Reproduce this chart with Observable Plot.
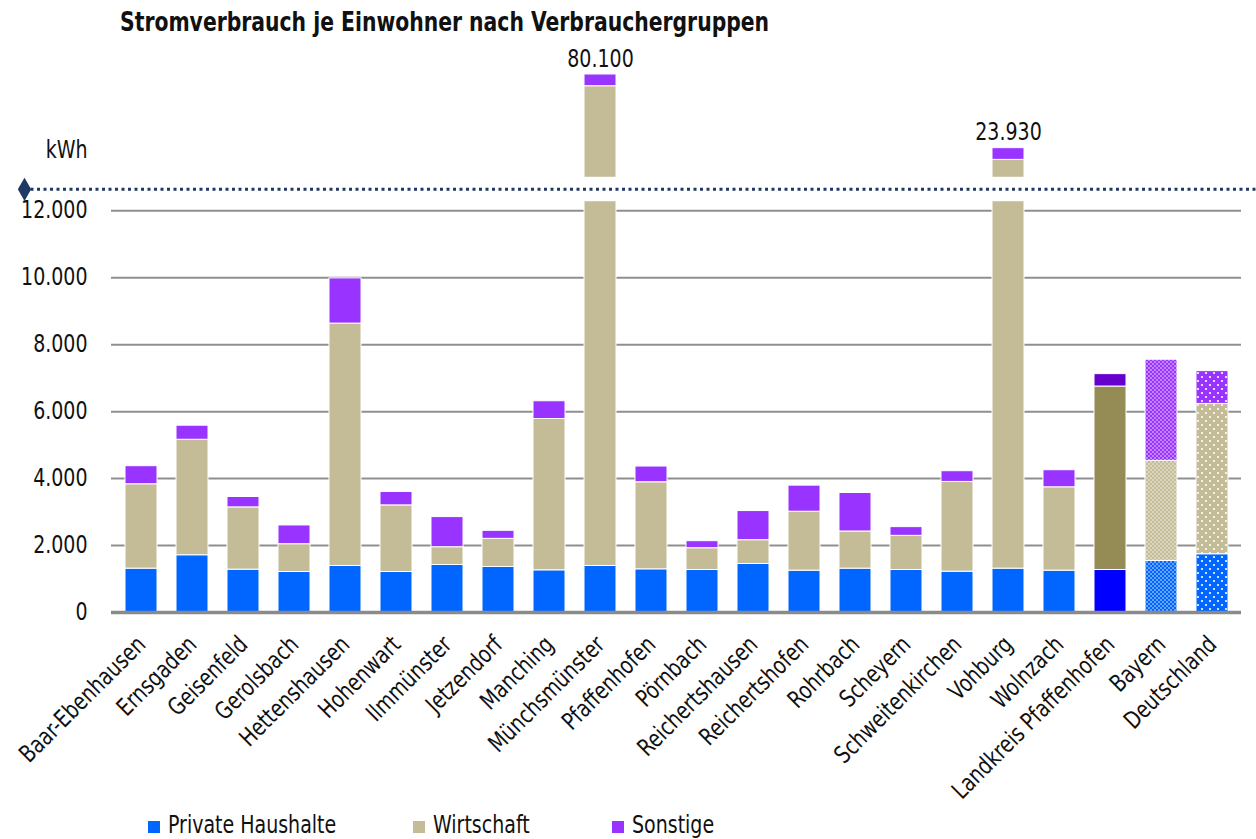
<!DOCTYPE html>
<html>
<head>
<meta charset="utf-8">
<script src="https://cdn.jsdelivr.net/npm/d3@7"></script>
<script src="https://cdn.jsdelivr.net/npm/@observablehq/plot@0.6"></script>
<style>
  body { margin: 0; background: #fff; color: #111;
         font-family: "DejaVu Sans Condensed", "Liberation Sans Narrow", sans-serif; }
  #wrap { width: 1256px; height: 839px; overflow: hidden; }
  #title { height: 34px; line-height: 34px; padding-top: 5px; padding-left: 120px; white-space: nowrap; }
  #title span { display: inline-block; font-size: 26px; font-weight: bold; transform: scaleX(0.87); transform-origin: 0 50%; }
  #legend { position: relative; height: 29px; font-size: 24px; }
  #legend .item { position: absolute; top: 0; line-height: 30px; white-space: nowrap; }
  #legend .sw { display: inline-block; width: 12px; height: 12px; margin-right: 8px; vertical-align: 0px; }
  #legend .tx { display: inline-block; transform: scaleX(0.88); transform-origin: 0 50%; }
</style>
</head>
<body>
<div id="wrap">
  <div id="title"><span>Stromverbrauch je Einwohner nach Verbrauchergruppen</span></div>
  <div id="chart"></div>
  <div id="legend"></div>
</div>
<script>
// ---- data (kWh per inhabitant) ----
const towns = ["Baar-Ebenhausen","Ernsgaden","Geisenfeld","Gerolsbach","Hettenshausen","Hohenwart","Ilmmünster","Jetzendorf","Manching","Münchsmünster","Pfaffenhofen","Pörnbach","Reichertshausen","Reichertshofen","Rohrbach","Scheyern","Schweitenkirchen","Vohburg","Wolnzach","Landkreis Pfaffenhofen","Bayern","Deutschland"];
const groups = ["Private Haushalte","Wirtschaft","Sonstige"];
const privateHaushalte = [1310,1710,1280,1210,1390,1210,1420,1360,1260,1390,1290,1270,1450,1250,1310,1270,1220,1310,1250,1270,1540,1740];
// for Münchsmünster and Vohburg the drawn (axis-broken) heights are given
const wirtschaft = [2520,3450,1860,830,7240,1990,530,840,4520,14330,2600,650,710,1760,1110,1020,2680,12210,2490,5480,2990,4490];
const sonstige   = [540,420,310,560,1350,400,900,240,530,350,470,210,870,780,1150,260,320,350,510,370,3020,980];
const brokenTowns = ["Münchsmünster","Vohburg"];
const brokenTotals = ["80.100","23.930"];
const breakLow = 12270, breakHigh = 13000, breakMarker = 12640;
const yTicks = [0,2000,4000,6000,8000,10000,12000];
const unitLabel = "kWh";

// ---- colours ----
const baseColors = {"Private Haushalte":"#0066FF","Wirtschaft":"#C4BC96","Sonstige":"#9933FF"};
const landkreisColors = {"Private Haushalte":"#0000FF","Wirtschaft":"#958B55","Sonstige":"#6600CC"};
const groupKey = {"Private Haushalte":"ph","Wirtschaft":"wi","Sonstige":"so"};

const rows = [];
towns.forEach((t, i) => {
  rows.push({town: t, group: groups[0], value: privateHaushalte[i]});
  rows.push({town: t, group: groups[1], value: wirtschaft[i]});
  rows.push({town: t, group: groups[2], value: sonstige[i]});
});
function fillFor(d) {
  if (d.town === "Landkreis Pfaffenhofen") return landkreisColors[d.group];
  if (d.town === "Bayern") return `url(#patBY_${groupKey[d.group]})`;
  if (d.town === "Deutschland") return `url(#patDE_${groupKey[d.group]})`;
  return baseColors[d.group];
}
const totals = brokenTowns.map((t, k) => {
  const i = towns.indexOf(t);
  return {town: t, top: privateHaushalte[i] + wirtschaft[i] + sonstige[i], label: brokenTotals[k]};
});

const de = d3.formatLocale({decimal: ",", thousands: ".", grouping: [3], currency: ["", " €"]});
const fmt = de.format(",");
const FONT = '"DejaVu Sans Condensed", "Liberation Sans Narrow", sans-serif';

const chart = Plot.plot({
  width: 1256,
  height: 771,
  marginLeft: 111,
  marginRight: 15,
  marginTop: 34,
  marginBottom: 198,
  style: {fontFamily: FONT, fontSize: "24px", color: "#111", background: "#fff", overflow: "visible"},
  x: {domain: towns, paddingInner: 0.38, paddingOuter: 0.175, label: null},
  y: {domain: [0, 16100], label: null},
  color: {type: "identity"},
  marks: [
    Plot.ruleY(yTicks.filter(v => v > 0), {stroke: "#8f8f8f", strokeWidth: 2}),
    Plot.barY(rows, {x: "town", y: "value", fill: fillFor, stroke: "white", strokeWidth: 1}),
    Plot.barY(totals, {x: "town", y1: breakLow, y2: breakHigh, fill: "white", insetLeft: -2, insetRight: -2}),
    Plot.ruleY([breakMarker], {stroke: "#1F3864", strokeWidth: 3, strokeDasharray: "3,3.5", insetLeft: -87, insetRight: -15}),
    Plot.dot([breakMarker], {y: d => d, frameAnchor: "left", dx: -87, symbol: "diamond", r: 7, fill: "#1F3864", stroke: "none"}),
    Plot.ruleY([0], {stroke: "#8a8a8a", strokeWidth: 3.5}),
    Plot.text(totals, {x: "town", y: "top", text: "label", dy: -8, lineAnchor: "bottom", fontSize: 24, fill: "#111"}),
    Plot.text([unitLabel], {y: 13800, frameAnchor: "left", dx: -24, textAnchor: "end", fontSize: 24, fill: "#111"}),
    Plot.axisY({ticks: yTicks, tickFormat: fmt, tickSize: 0, tickPadding: 24, fontSize: 24, label: null}),
    Plot.axisX({tickRotate: -45, tickSize: 0, tickPadding: 28, fontSize: 24, label: null})
  ]
});

const svgEl = chart.tagName.toLowerCase() === "svg" ? chart : chart.querySelector("svg");
const svg = d3.select(svgEl);

// condense all chart texts horizontally around their anchor point
const isNum = v => v != null && v !== "" && /^-?[\d.]+$/.test(v);
svg.selectAll("text").each(function () {
  const ax = this.getAttribute("x"), ay = this.getAttribute("y");
  let x = 0, y = 0;
  if (isNum(ax)) { x = +ax; this.removeAttribute("x"); }
  if (isNum(ay)) { y = +ay; this.removeAttribute("y"); }
  const tr = this.getAttribute("transform") || "";
  this.setAttribute("transform", `${tr} translate(${x},${y}) scale(0.88,1)`);
});

// dot patterns for Bayern (dense) and Deutschland (sparse)
const defs = svg.insert("defs", ":first-child");
const keys = {ph: baseColors["Private Haushalte"], wi: baseColors["Wirtschaft"], so: baseColors["Sonstige"]};
for (const [k, col] of Object.entries(keys)) {
  const pb = defs.append("pattern").attr("id", `patBY_${k}`).attr("patternUnits", "userSpaceOnUse").attr("width", 4).attr("height", 4);
  pb.append("rect").attr("width", 4).attr("height", 4).attr("fill", col);
  pb.append("circle").attr("cx", 1).attr("cy", 1).attr("r", 0.75).attr("fill", "#fff");
  pb.append("circle").attr("cx", 3).attr("cy", 3).attr("r", 0.75).attr("fill", "#fff");
  const pd = defs.append("pattern").attr("id", `patDE_${k}`).attr("patternUnits", "userSpaceOnUse").attr("width", 8).attr("height", 8);
  pd.append("rect").attr("width", 8).attr("height", 8).attr("fill", col);
  pd.append("circle").attr("cx", 2).attr("cy", 2).attr("r", 1.1).attr("fill", "#fff");
  pd.append("circle").attr("cx", 6).attr("cy", 6).attr("r", 1.1).attr("fill", "#fff");
}
document.getElementById("chart").appendChild(chart);

// legend
const legendPos = [148, 413, 612];
const leg = d3.select("#legend");
groups.forEach((g, i) => {
  const it = leg.append("div").attr("class", "item").style("left", legendPos[i] + "px");
  it.append("span").attr("class", "sw").style("background", baseColors[g]);
  it.append("span").attr("class", "tx").text(g);
});
</script>
</body>
</html>
